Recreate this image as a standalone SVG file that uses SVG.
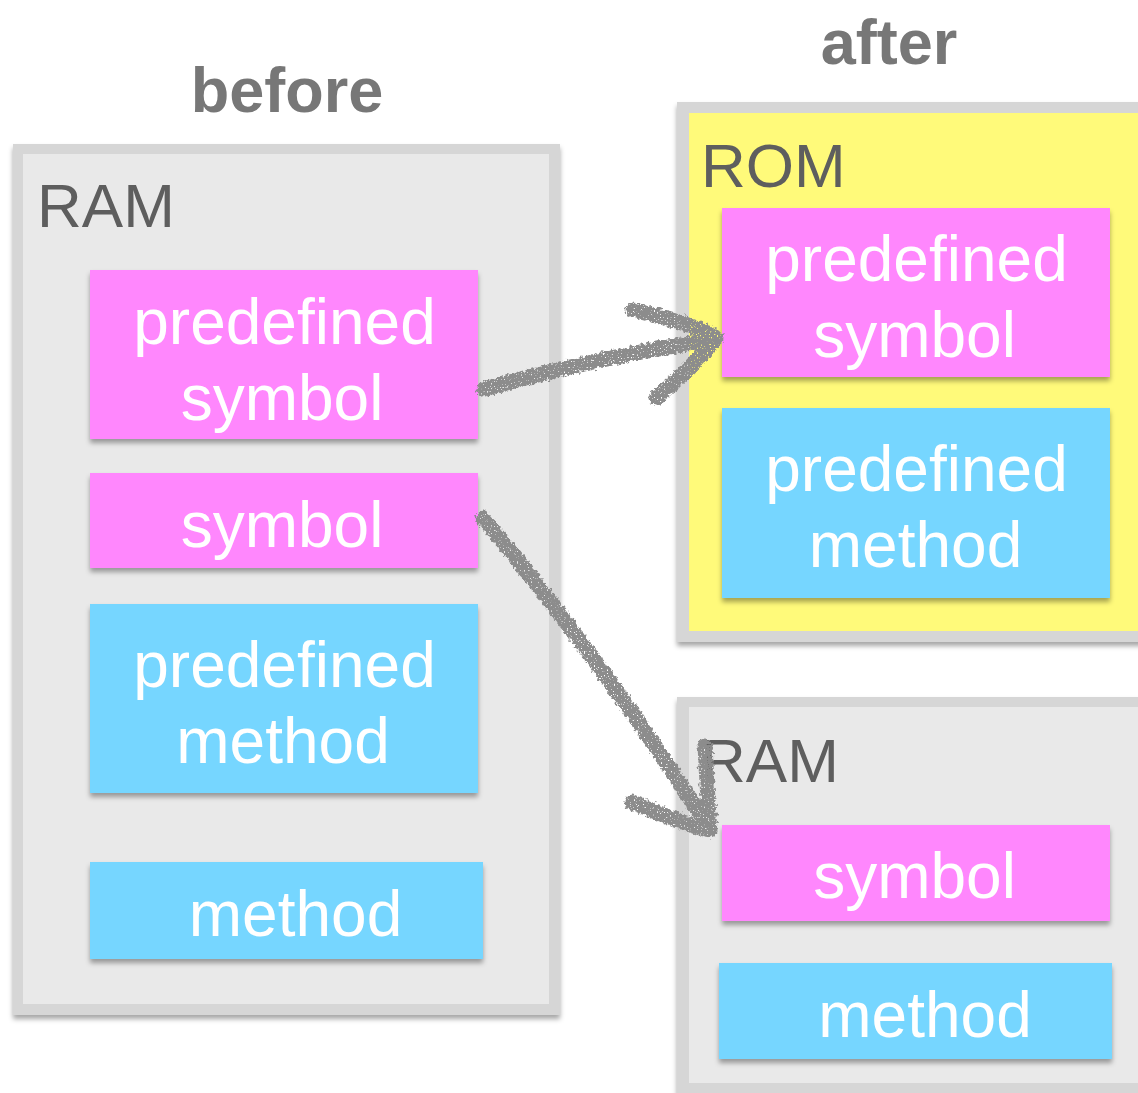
<svg xmlns="http://www.w3.org/2000/svg" width="1138" height="1093" viewBox="0 0 1138 1093">
  <defs>
    <filter id="shadow" x="-10%" y="-10%" width="120%" height="130%">
      <feDropShadow dx="0" dy="4" stdDeviation="2.5" flood-color="#000" flood-opacity="0.35"/>
    </filter>
    <filter id="chalk" filterUnits="userSpaceOnUse" x="400" y="250" width="400" height="650">
      <feTurbulence type="fractalNoise" baseFrequency="0.3" numOctaves="2" seed="3" result="n"/>
      <feDisplacementMap in="SourceGraphic" in2="n" scale="7" xChannelSelector="R" yChannelSelector="G" result="d"/>
      <feTurbulence type="fractalNoise" baseFrequency="0.7" numOctaves="1" seed="7" result="n2"/>
      <feColorMatrix in="n2" type="matrix" values="0 0 0 0 0  0 0 0 0 0  0 0 0 0 0  -10 0 0 0 7.2" result="m"/>
      <feComposite in="d" in2="m" operator="in"/>
    </filter>
  </defs>
  <style>
    .outer { fill: #d6d6d6; }
    .ram { fill: #e9e9e9; }
    .rom { fill: #fffa7a; }
    .pink { fill: #ff87fd; }
    .blue { fill: #76d6ff; }
    .title { font-family: "Liberation Sans", Arial, sans-serif; font-weight: bold; font-size: 63px; fill: #777777; text-anchor: middle; }
    .label { font-family: "Liberation Sans", Arial, sans-serif; font-size: 62px; fill: #5e5e5e; }
    .txt { font-family: "Liberation Sans", Arial, sans-serif; font-size: 64px; fill: #ffffff; text-anchor: middle; }
    .arrow { fill: none; stroke: #8c8c8c; stroke-width: 15; stroke-linecap: round; stroke-linejoin: round; }
  </style>
  <rect width="1138" height="1093" fill="#ffffff"/>

  <text class="title" x="287" y="112">before</text>
  <text class="title" x="889" y="64">after</text>

  <g id="ram-before">
    <rect class="outer" x="13" y="144" width="547" height="871" filter="url(#shadow)"/>
    <rect class="ram" x="23" y="154" width="526" height="850"/>
    <text class="label" x="37" y="227">RAM</text>
  </g>

  <g id="rom-after">
    <rect class="outer" x="677" y="102" width="480" height="540" filter="url(#shadow)"/>
    <rect class="rom" x="689" y="113" width="460" height="518"/>
    <text class="label" x="701" y="187">ROM</text>
  </g>

  <g id="ram-after">
    <rect class="outer" x="677" y="697" width="480" height="420" filter="url(#shadow)"/>
    <rect class="ram" x="689" y="707" width="460" height="376"/>
    <text class="label" x="701" y="782">RAM</text>
  </g>

  <g id="b-predefined-symbol">
    <rect class="pink" x="90" y="270" width="388" height="169" filter="url(#shadow)"/>
    <text class="txt" x="284.5" y="344">predefined</text>
    <text class="txt" x="282" y="420">symbol</text>
  </g>
  <g id="b-symbol">
    <rect class="pink" x="90" y="473" width="388" height="95" filter="url(#shadow)"/>
    <text class="txt" x="282" y="547">symbol</text>
  </g>
  <g id="b-predefined-method">
    <rect class="blue" x="90" y="604" width="388" height="189" filter="url(#shadow)"/>
    <text class="txt" x="284.5" y="687">predefined</text>
    <text class="txt" x="283" y="763">method</text>
  </g>
  <g id="b-method">
    <rect class="blue" x="90" y="862" width="393" height="97" filter="url(#shadow)"/>
    <text class="txt" x="295.5" y="936">method</text>
  </g>

  <g id="a-predefined-symbol">
    <rect class="pink" x="722" y="208" width="388" height="169" filter="url(#shadow)"/>
    <text class="txt" x="916.5" y="281">predefined</text>
    <text class="txt" x="914.5" y="357">symbol</text>
  </g>
  <g id="a-predefined-method">
    <rect class="blue" x="722" y="408" width="388" height="190" filter="url(#shadow)"/>
    <text class="txt" x="916.5" y="491">predefined</text>
    <text class="txt" x="915.5" y="567">method</text>
  </g>
  <g id="a-symbol">
    <rect class="pink" x="722" y="825" width="388" height="96" filter="url(#shadow)"/>
    <text class="txt" x="914.5" y="898">symbol</text>
  </g>
  <g id="a-method">
    <rect class="blue" x="719" y="963" width="393" height="96" filter="url(#shadow)"/>
    <text class="txt" x="925" y="1037">method</text>
  </g>

  <g id="connectors" filter="url(#chalk)">
    <path class="arrow" d="M484,389 C560,368 630,352 712,340"/>
    <path class="arrow" d="M633,310 C665,318 700,326 716,338 C700,358 680,378 656,398"/>
    <path class="arrow" d="M483,518 C560,610 640,720 708,826"/>
    <path class="arrow" d="M705,746 C707,780 708,806 710,830 C690,826 660,814 632,802"/>
  </g>
</svg>
